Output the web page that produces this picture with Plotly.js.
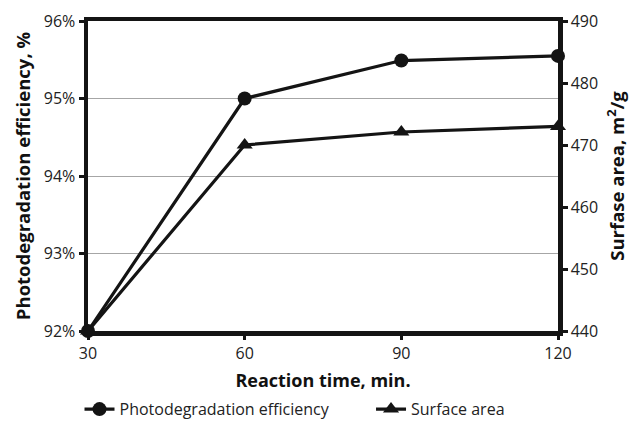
<!DOCTYPE html>
<html>
<head>
<meta charset="utf-8">
<script src="https://cdn.plot.ly/plotly-3.0.1.min.js"></script>
<style>html,body{margin:0;padding:0;background:#fff;}#chart{width:631px;height:421px;}</style>
</head>
<body>
<div id="chart"></div>
<script>
const reactionTime = [30, 60, 90, 120];
const photodegradation = [92, 95, 95.49, 95.55];
const surfaceArea = [440, 470, 472.1, 473];
const leftTicks = [92, 93, 94, 95, 96];
const rightTicks = [440, 450, 460, 470, 480, 490];
const xTicks = [30, 60, 90, 120];

const ink = '#141414';
const font = 'Open Sans, DejaVu Sans, sans-serif';

const traces = [
  {
    x: reactionTime, y: photodegradation, name: 'Photodegradation efficiency',
    type: 'scatter', mode: 'lines+markers', yaxis: 'y', cliponaxis: false, legend: 'legend',
    line: {color: ink, width: 3.2}, marker: {symbol: 'circle', size: 14, color: ink}
  },
  {
    x: reactionTime, y: surfaceArea, name: 'Surface area',
    type: 'scatter', mode: 'lines+markers', yaxis: 'y2', cliponaxis: false, legend: 'legend2',
    line: {color: ink, width: 3.2}, marker: {symbol: 'triangle-up', size: 14, color: ink}
  }
];

const legendFont = {family: font, size: 16, color: '#222'};

const layout = {
  width: 631, height: 421,
  margin: {l: 88, r: 73, t: 21, b: 90, autoexpand: false},
  paper_bgcolor: '#fff', plot_bgcolor: '#fff',
  font: {family: font, color: '#222', size: 15},
  showlegend: true,
  legend: {orientation: 'h', xref: 'container', x: 0.126, xanchor: 'left', yref: 'container', y: 0.028, yanchor: 'middle',
           font: legendFont, bgcolor: 'rgba(0,0,0,0)'},
  legend2: {orientation: 'h', xref: 'container', x: 0.588, xanchor: 'left', yref: 'container', y: 0.028, yanchor: 'middle',
           font: legendFont, bgcolor: 'rgba(0,0,0,0)'},
  xaxis: {
    range: [30, 120], tickvals: xTicks, ticktext: xTicks.map(String), automargin: true,
    showline: true, linewidth: 4.5, linecolor: ink, mirror: true,
    ticks: 'outside', ticklen: 4, tickwidth: 3, tickcolor: ink,
    showgrid: false, zeroline: false,
    tickfont: {family: font, size: 16, color: '#222'},
    title: {text: 'Reaction time, min.', font: {family: font, size: 18, color: '#111', weight: 'bold'}, standoff: 14}
  },
  yaxis: {
    range: [92, 96], tickvals: leftTicks, ticktext: leftTicks.map(v => v + '%'), automargin: true,
    showline: true, linewidth: 4.5, linecolor: ink, mirror: true,
    ticks: 'outside', ticklen: 5, tickwidth: 3, tickcolor: ink,
    showgrid: true, gridcolor: '#a6a6a6', gridwidth: 1, zeroline: false,
    tickfont: {family: font, size: 16, color: '#222'},
    title: {text: 'Photodegradation efficiency, %', font: {family: font, size: 18.5, color: '#111', weight: 'bold'}, standoff: 10}
  },
  yaxis2: {
    range: [440, 490], tickvals: rightTicks, ticktext: rightTicks.map(String), automargin: true,
    overlaying: 'y', side: 'right',
    showline: true, linewidth: 4.5, linecolor: ink,
    ticks: 'outside', ticklen: 5, tickwidth: 3, tickcolor: ink,
    showgrid: false, zeroline: false,
    tickfont: {family: font, size: 16, color: '#222'},
    title: {text: 'Surfase area, m<sup>2</sup>/g', font: {family: font, size: 18.5, color: '#111', weight: 'bold'}, standoff: 15}
  }
};

Plotly.newPlot('chart', traces, layout, {staticPlot: true, displayModeBar: false});
</script>
</body>
</html>
